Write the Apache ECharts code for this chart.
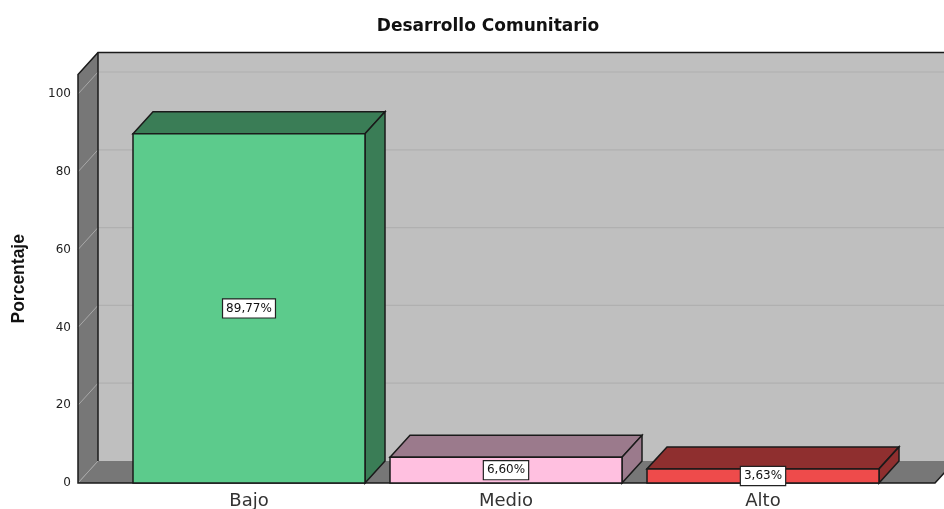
<!DOCTYPE html>
<html><head><meta charset="utf-8">
<style>html,body{margin:0;padding:0;background:#fff}#c{width:944px;height:509px}</style>
<script src="https://cdn.jsdelivr.net/npm/echarts@6/dist/echarts.min.js"></script>
</head><body><div id="c"></div>
<script>
const categories = ['Bajo', 'Medio', 'Alto'];
const values = [89.77, 6.60, 3.63];
const valueLabels = ['89,77%', '6,60%', '3,63%'];
const frontColors = ['#5ccb8c', '#ffc0e0', '#ee4b4b'];
const sideColors = ['#3a7d56', '#9b7a8c', '#8f2f2f'];
const gridTicks = [0, 20, 40, 60, 80, 100];
const axisTop = 105;

const DX = 20, DY = 22, LEFT_PAD = 42.5, RIGHT_PAD = 43.5;
const FONT = '"Liberation Sans", Arial, sans-serif';
const WIDE = '"DejaVu Sans", Verdana, sans-serif';
const edge = { stroke: '#1a1a1a', lineWidth: 1.5 };

function renderWalls(params, api) {
  const cs = params.coordSys;
  const xL = cs.x - LEFT_PAD, xR = cs.x + cs.width + RIGHT_PAD;
  const y0 = api.coord([0, 0])[1], yT = api.coord([0, axisTop])[1];
  const children = [
    { type: 'polygon', shape: { points: [[xL + DX, yT - DY], [xR + DX, yT - DY], [xR + DX, y0 - DY], [xL + DX, y0 - DY]] }, style: { fill: '#bfbfbf', stroke: 'none' } },
    { type: 'polygon', shape: { points: [[xL, y0], [xL + DX, y0 - DY], [xR + DX, y0 - DY], [xR, y0]] }, style: { fill: '#777777', stroke: 'none' } },
    { type: 'polygon', shape: { points: [[xL, yT], [xL + DX, yT - DY], [xL + DX, y0 - DY], [xL, y0]] }, style: { fill: '#777777', stroke: 'none' } }
  ];
  gridTicks.forEach(function (t) {
    const y = api.coord([0, t])[1];
    children.push({ type: 'polyline', shape: { points: [[xL, y], [xL + DX, y - DY]] }, style: { stroke: '#a8a8a8', lineWidth: 1, fill: 'none' } });
    if (t > 0) children.push({ type: 'line', shape: { x1: xL + DX, y1: y - DY, x2: xR + DX, y2: y - DY }, style: { stroke: '#b0b0b0', lineWidth: 1.2 } });
  });
  children.push(
    { type: 'polyline', shape: { points: [[xR + DX, yT - DY], [xL + DX, yT - DY], [xL, yT], [xL, y0], [xR, y0], [xR + DX, y0 - DY]] }, style: { fill: 'none', ...edge } },
    { type: 'line', shape: { x1: xL + DX, y1: yT - DY, x2: xL + DX, y2: y0 - DY }, style: { ...edge } }
  );
  return { type: 'group', children: children };
}

function renderBar(params, api) {
  const i = api.value(0), v = api.value(1);
  const c = api.coord([i, v]), y0 = api.coord([i, 0])[1];
  const w = api.size([1, 0])[0] * 232 / 257;
  const l = c[0] - w / 2, r = c[0] + w / 2, t = c[1];
  return { type: 'group', children: [
    { type: 'polygon', shape: { points: [[l, t], [l + DX, t - DY], [r + DX, t - DY], [r, t]] }, style: { fill: sideColors[i], ...edge } },
    { type: 'polygon', shape: { points: [[r, t], [r + DX, t - DY], [r + DX, y0 - DY], [r, y0]] }, style: { fill: sideColors[i], ...edge } },
    { type: 'rect', shape: { x: l, y: t, width: w, height: y0 - t }, style: { fill: frontColors[i], ...edge } },
    { type: 'text', z2: 10, x: c[0], y: (t + y0) / 2, style: { text: valueLabels[i], align: 'center', verticalAlign: 'middle', font: '12px ' + WIDE, fill: '#111', backgroundColor: '#fff', borderColor: '#222', borderWidth: 1.2, padding: [3, 3, 3, 3] } }
  ] };
}

const chart = echarts.init(document.getElementById('c'), null, { renderer: 'canvas' });
chart.setOption({
  animation: false,
  backgroundColor: '#fff',
  title: { text: 'Desarrollo Comunitario', left: 483, top: 13, textAlign: 'center', textStyle: { fontFamily: WIDE, fontSize: 17, fontWeight: 'bold', color: '#111' } },
  grid: { left: 120.5, right: 52.5, top: 483 - 3.89 * axisTop, bottom: 26, outerBoundsMode: 'none' },
  xAxis: { type: 'category', data: categories, axisLine: { show: false }, axisTick: { show: false }, z: 5,
    axisLabel: { fontFamily: WIDE, fontSize: 18, color: '#333', margin: 9 } },
  yAxis: { type: 'value', min: 0, max: axisTop, interval: 20, splitLine: { show: false }, axisLine: { show: false }, axisTick: { show: false },
    axisLabel: { fontFamily: WIDE, fontSize: 12, color: '#222', margin: 49.5, padding: [4, 0, 0, 0], showMaxLabel: false, formatter: function (v) { return gridTicks.indexOf(v) >= 0 ? String(v) : ''; } },
    name: 'Porcentaje', nameLocation: 'middle', nameGap: 92, nameRotate: 90,
    nameTextStyle: { fontFamily: FONT, fontSize: 17.5, fontWeight: 'bold', color: '#111' } },
  series: [
    { type: 'custom', clip: false, silent: true, z: 1, data: [[0, 0]], renderItem: renderWalls, encode: { x: 0, y: 1 } },
    { type: 'custom', clip: false, z: 2, data: values.map(function (v, i) { return [i, v]; }), renderItem: renderBar, encode: { x: 0, y: 1 } }
  ]
});
</script></body></html>
